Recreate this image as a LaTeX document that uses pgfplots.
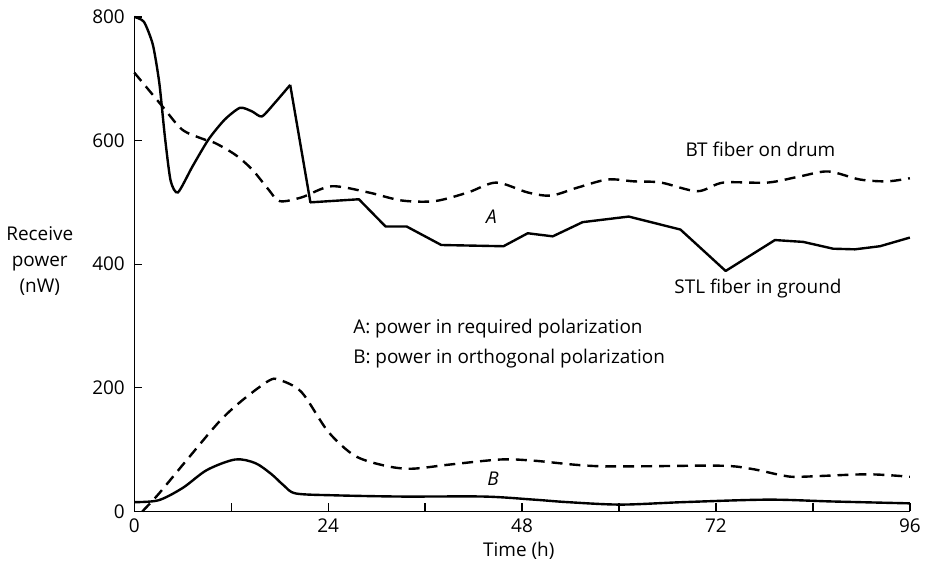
\documentclass[border=0pt]{standalone}
\usepackage{fontspec}
\setmainfont{Open Sans}[Ligatures={NoCommon}]
\usepackage{pgfplots}
\pgfplotsset{compat=1.18}
\begin{document}
\fontsize{19}{22}\selectfont
\begin{tikzpicture}
\begin{axis}[
  scale only axis, width=778pt, height=496pt,
  xmin=0, xmax=96, ymin=0, ymax=800,
  axis x line*=bottom, axis y line*=left,
  axis line style={-, line width=1.3pt},
  every tick/.style={black, line width=1.3pt},
  tick align=inside,
  major tick length=8pt, minor tick length=8pt,
  xtick={0,24,48,72,96}, minor xtick={12,36,60,84},
  ytick={0,200,400,600,800},
  /pgf/number format/assume math mode=true,
  tick label style={font=\fontsize{19}{22}\selectfont},
  xticklabel style={yshift=-1pt},
  yticklabel style={xshift=-3pt},
  clip=false,
]
% A: STL fiber in ground (solid)
\addplot[black, line width=2.4pt, smooth, tension=0.4] coordinates {
(0,800) (1.2,792) (2.3,755) (3.1,693) (3.8,605) (4.5,535) (5.4,516) (7.2,558) (9.2,602) (11.2,634) (13.1,653) (14.6,647) (15.8,639) (17.4,661) (19.3,690)};
\addplot[black, line width=2.4pt, line join=round] coordinates {
(19.3,690) (21.8,500) (27.8,505) (31.1,461) (33.7,461) (38,431) (45.7,429) (48.7,450) (51.8,445) (55.5,468) (61.2,477) (67.6,456) (73.2,389) (79.3,439) (82.8,436) (86.5,425) (89.2,424) (92.3,429) (96,443)};
% A: BT fiber on drum (dashed)
\addplot[black, line width=2.4pt, dash pattern=on 11pt off 7pt, smooth, tension=0.5] coordinates {
(0,710) (3.5,655) (5.9,618) (8.4,603) (10,596) (12.5,577) (14.6,553) (16.6,521) (18,502) (20.7,508) (24.4,526) (29,516) (33.1,503) (37.2,502) (41.3,516) (44.8,532) (48.7,516) (51.6,511) (54.9,524) (58.6,537) (61.8,534) (65.2,532) (69.7,518) (72.9,532) (78.4,532) (82.4,542) (85.9,550) (89.8,537) (93.2,534) (96,539)};
% B solid
\addplot[black, line width=2.4pt, smooth, tension=0.5] coordinates {
(0,15) (3,18) (6,38) (9,67) (12.5,84) (15,78) (17,60) (18.5,42) (20,29) (24.8,26) (33.1,24) (43.3,24) (49.5,19) (53.6,15) (60.2,11) (68,15) (78.4,19) (86.5,16) (96,13)};
% B dashed
\addplot[black, line width=2.4pt, dash pattern=on 11pt off 7pt, smooth, tension=0.5] coordinates {
(1,0) (3,28) (6.3,80) (10.5,145) (13.3,179) (16.6,211) (17.9,213) (20.7,193) (24,129) (27.3,90) (31,74) (34.3,69) (39.2,76) (45.4,84) (49.5,82) (57.7,73) (72.2,74) (76.3,69) (80.3,58) (82.4,56) (90.7,60) (96,56)};
\node at (axis cs:77.5,585) {BT fiber on drum};
\node at (axis cs:44.2,476) {\itshape A};
\node at (axis cs:77.2,360) {STL fiber in ground};
\node[anchor=west] at (axis cs:26.3,295) {A: power in required polarization};
\node[anchor=west] at (axis cs:26.3,247) {B: power in orthogonal polarization};
\node at (axis cs:44.4,53) {\itshape B};
\node[align=center, font=\fontsize{19}{26}\selectfont] at (axis cs:-11.7,405) {Receive\\power\\(nW)};
\node at (axis cs:47.6,-63) {Time (h)};
\path (axis cs:-16.29,-91.9) rectangle (axis cs:98.1,827.4);
\end{axis}
\end{tikzpicture}
\end{document}
